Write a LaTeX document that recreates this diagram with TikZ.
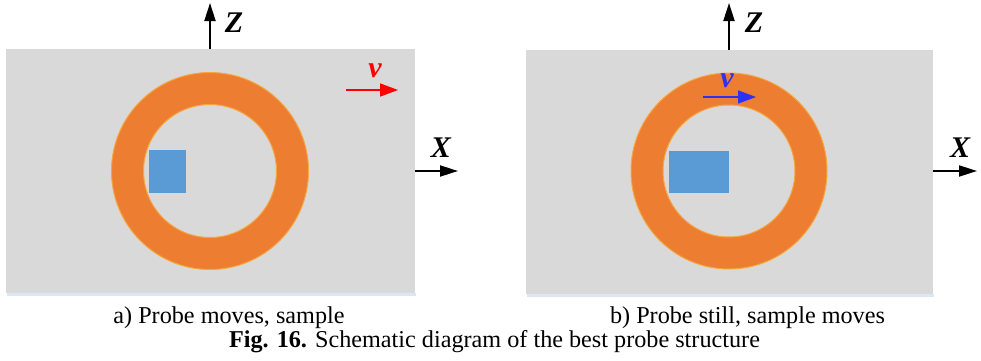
\documentclass[tikz,border=0pt]{standalone}
\usepackage{fontspec}
\setmainfont{Liberation Serif}
\usetikzlibrary{arrows.meta,positioning}

\definecolor{platebg}{HTML}{D9D9D9}
\definecolor{ringor}{HTML}{ED7D31}
\definecolor{ringedge}{HTML}{F4A640}
\definecolor{probeblue}{HTML}{5B9BD5}
\definecolor{shadowblue}{HTML}{DCE7F3}
\definecolor{velblue}{HTML}{3030F5}

\tikzset{
  axis/.style={-{Triangle[length=9pt,width=5.5pt]}, line width=1pt, black},
  velarrow/.style={-{Triangle[length=9pt,width=6.5pt]}, line width=0.8pt},
  axlabel/.style={font=\fontsize{15}{15}\selectfont\bfseries\itshape, inner sep=0pt},
  caption/.style={font=\fontsize{12.1}{12.1}\selectfont, inner sep=0pt}
}

\begin{document}
\begin{tikzpicture}[x=0.5pt, y=0.5pt]
  \useasboundingbox (0,0) rectangle (981,360);

  % left panel: sample plate, ring, probe
  \fill[shadowblue] (7,64) rectangle (416,67);
  \fill[platebg] (6,67) rectangle (415,311);
  \coordinate (ringA) at (210,189);
  \fill[ringor, even odd rule, draw=ringedge, line width=0.5pt]
    (ringA) circle[radius=98.5] (ringA) circle[radius=66.5];
  \fill[probeblue] (149,167) rectangle (186,210);

  % right panel
  \fill[shadowblue] (527,63) rectangle (934,66);
  \fill[platebg] (526,66) rectangle (933,310);
  \coordinate (ringB) at (729,189);
  \fill[ringor, even odd rule, draw=ringedge, line width=0.5pt]
    (ringB) circle[radius=98] (ringB) circle[radius=66];
  \fill[probeblue] (669,167) rectangle (729,209);

  % axes, left
  \coordinate (zA0) at (210,311);
  \coordinate (zA1) at (210,357);
  \draw[axis] (zA0) -- (zA1);
  \node[axlabel] (zAlab) at (234,337) {Z};
  \coordinate (xA0) at (415,189);
  \coordinate (xA1) at (458,189);
  \draw[axis] (xA0) -- (xA1);
  \node[axlabel] (xAlab) at (441,212) {X};

  % axes, right
  \coordinate (zB0) at (729,310);
  \coordinate (zB1) at (729,357);
  \draw[axis] (zB0) -- (zB1);
  \node[axlabel] (zBlab) at (754,337) {Z};
  \coordinate (xB0) at (933,189);
  \coordinate (xB1) at (977,189);
  \draw[axis] (xB0) -- (xB1);
  \node[axlabel] (xBlab) at (960,212) {X};

  % velocities
  \coordinate (vA0) at (346,270);
  \coordinate (vA1) at (398,270);
  \draw[velarrow, red] (vA0) -- (vA1);
  \node[axlabel, text=red] (vAlab) at (375,289) {v};
  \coordinate (vB0) at (703,263);
  \coordinate (vB1) at (756,263);
  \draw[velarrow, velblue] (vB0) -- (vB1);
  \node[axlabel, text=velblue] (vBlab) at (727,279) {v};

  % captions
  \node[caption] (capA) at (229,42) {a) Probe moves, sample};
  \node[caption] (capB) at (747.5,42) {b) Probe still, sample moves};
  \node[caption] (capFig) at (494.5,18)
    {\textbf{Fig. 16.} Schematic diagram of the best probe structure};
\end{tikzpicture}
\end{document}
